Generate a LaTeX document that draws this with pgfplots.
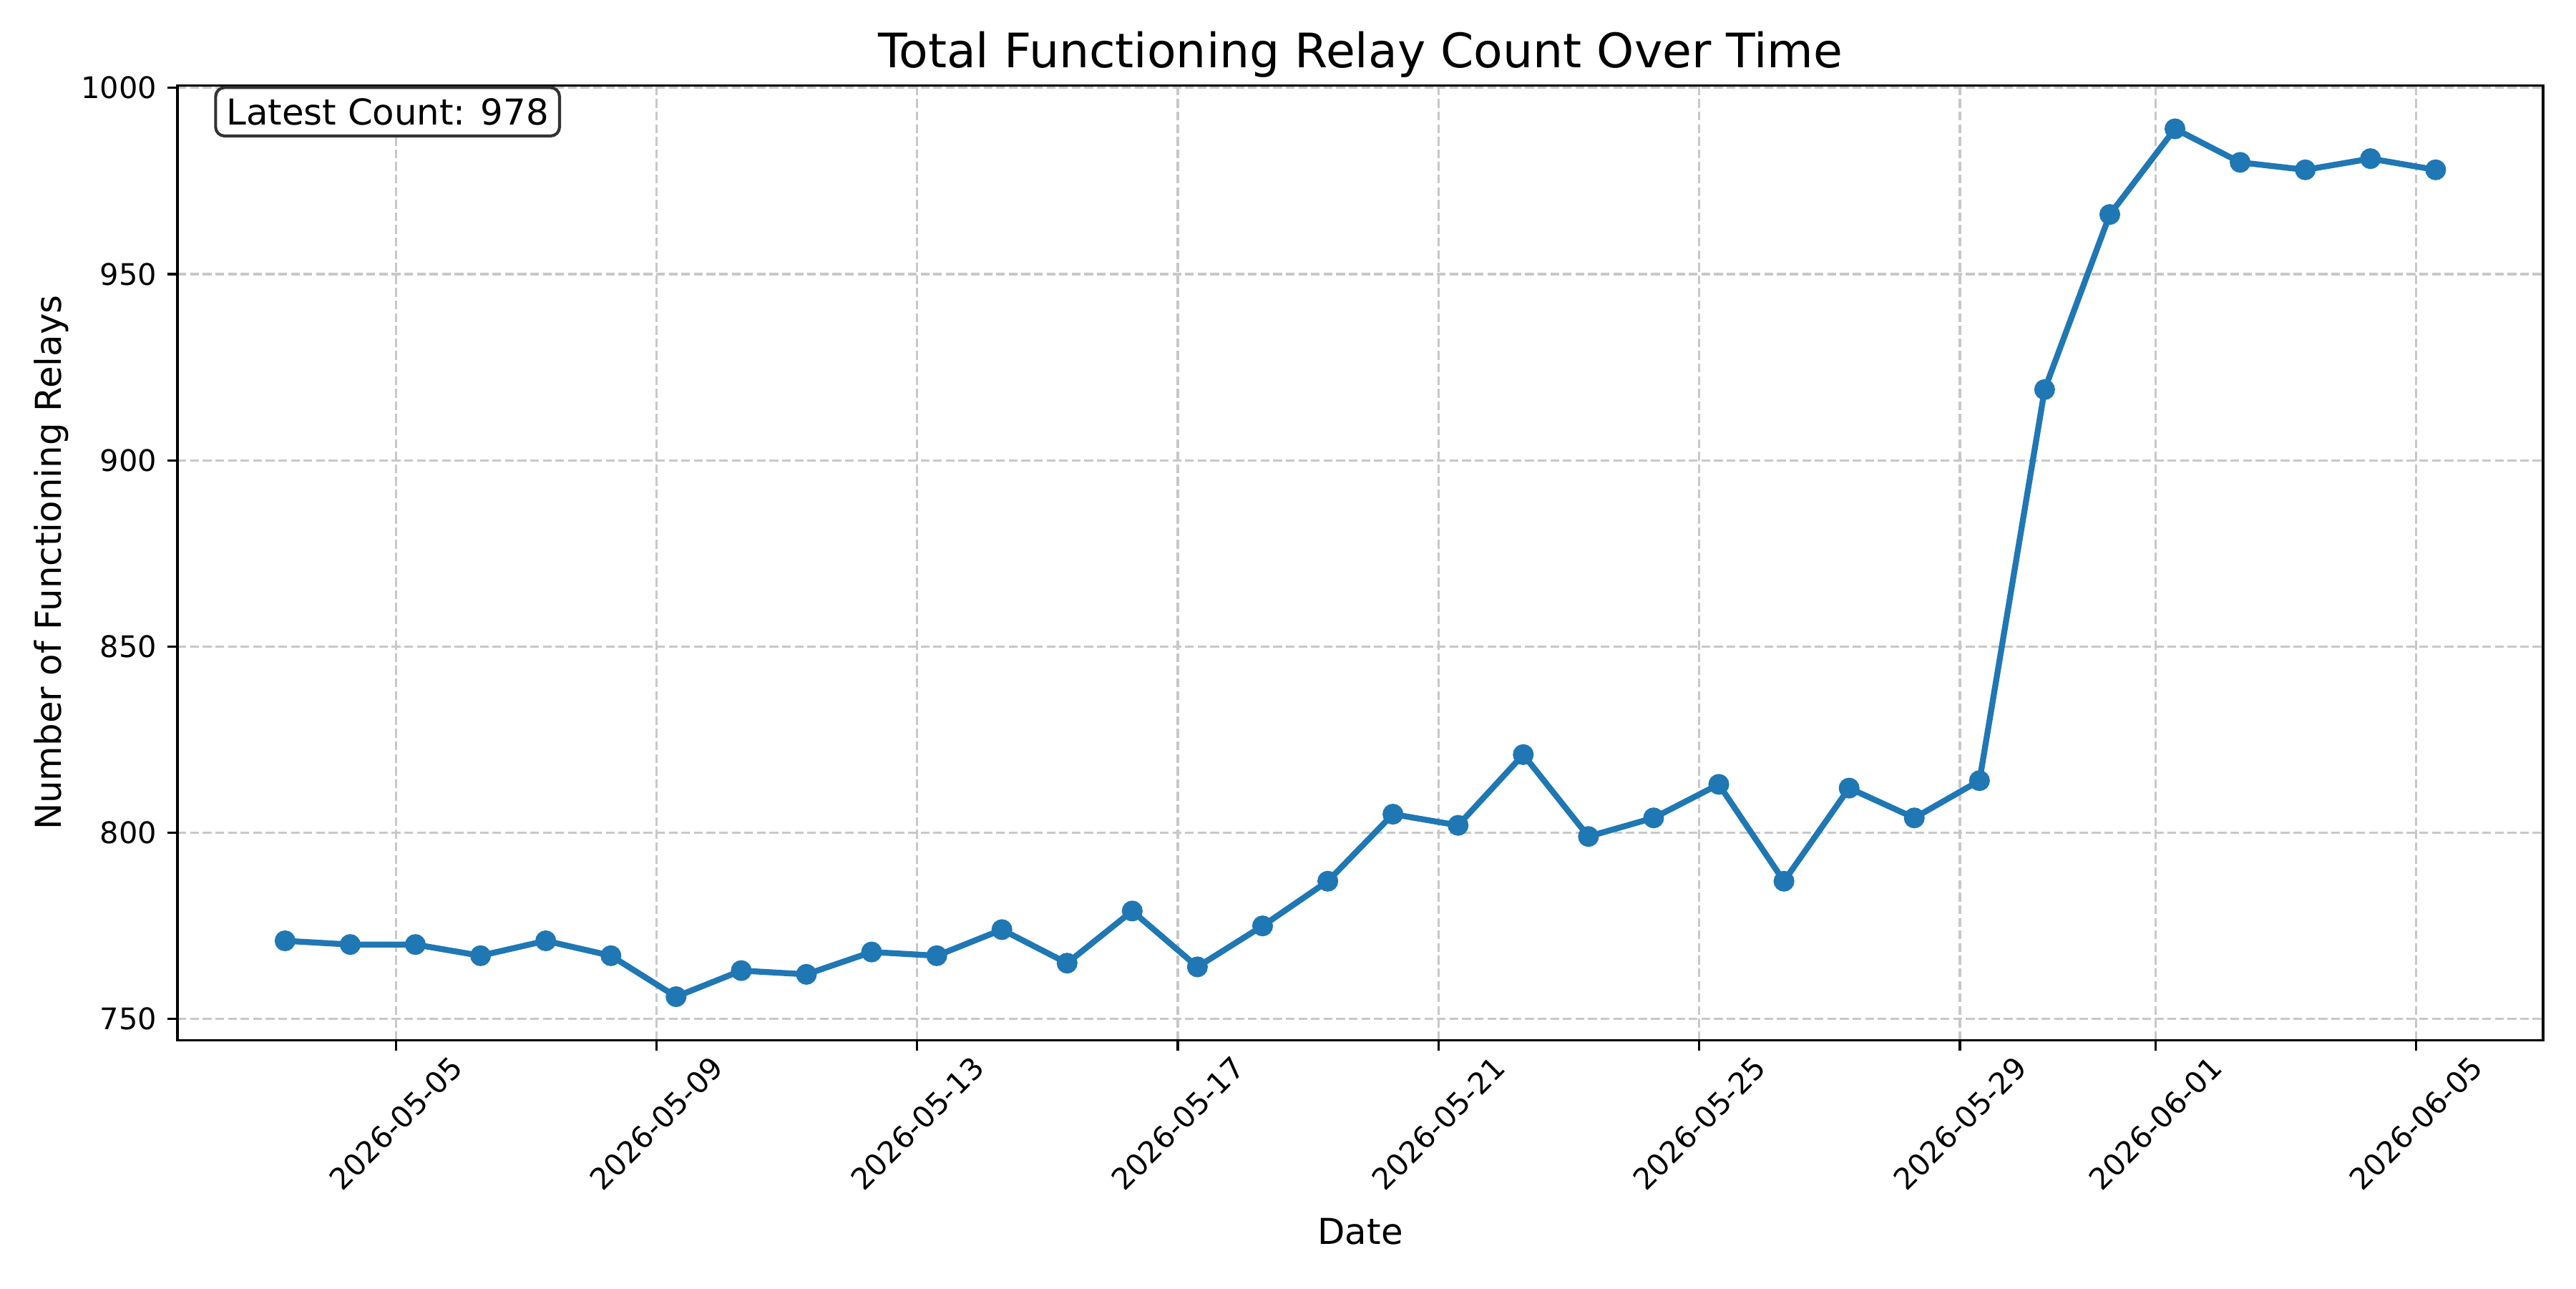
\documentclass[border=0pt]{standalone}
\usepackage{fontspec}
\setmainfont{DejaVu Sans}
\usepackage{pgfplots}
\pgfplotsset{compat=1.18}
\definecolor{mplblue}{HTML}{1F77B4}
\definecolor{gridgray}{HTML}{C8C8C8}
\begin{document}
\begin{tikzpicture}
\useasboundingbox (0,0) rectangle (12in,6in);
\begin{axis}[
  at={(0.827in,1.156in)}, anchor=south west,
  scale only axis, width=11.02in, height=4.446in,
  xmin=1.65, xmax=37.95, ymin=744.35, ymax=1000.65,
  xtick={5,9,13,17,21,25,29,32,36},
  xticklabels={2026-05-05,2026-05-09,2026-05-13,2026-05-17,2026-05-21,2026-05-25,2026-05-29,2026-06-01,2026-06-05},
  ytick={750,800,850,900,950,1000},
  tick align=outside, tick pos=left,
  major tick length=3.5pt,
  every tick/.style={black, line width=0.8pt},
  axis line style={line width=0.8pt},
  grid=major,
  major grid style={dash pattern=on 2.96pt off 1.28pt, color=gridgray, line width=0.8pt},
  xticklabel style={rotate=45, anchor=center, xshift=-17.4pt, yshift=-17.4pt, font=\fontsize{10}{12}\selectfont},
  yticklabel style={font=\fontsize{10}{12}\selectfont},
  /pgf/number format/assume math mode=true,
  /pgf/number format/1000 sep={},
  title={Total Functioning Relay Count Over Time},
  title style={at={([yshift=4.4pt]axis description cs:0.5,1)}, anchor=center, font=\fontsize{16}{19}\selectfont},
  xlabel={Date},
  xlabel style={at={([yshift=-64.4pt]axis description cs:0.5,0)}, anchor=center, font=\fontsize{12}{14}\selectfont},
  ylabel={Number of Functioning Relays},
  ylabel style={at={([xshift=-42.5pt]axis description cs:0,0.5)}, anchor=center, rotate=0, font=\fontsize{12}{14}\selectfont},
]
\addplot[color=mplblue, line width=2pt, mark=*, mark size=3pt,
  mark options={fill=mplblue, draw=mplblue, line width=1pt, solid}]
coordinates {
(3.3,771) (4.3,770) (5.3,770) (6.3,767) (7.3,771) (8.3,767) (9.3,756) (10.3,763)
(11.3,762) (12.3,768) (13.3,767) (14.3,774) (15.3,765) (16.3,779) (17.3,764) (18.3,775)
(19.3,787) (20.3,805) (21.3,802) (22.3,821) (23.3,799) (24.3,804) (25.3,813) (26.3,787)
(27.3,812) (28.3,804) (29.3,814) (30.3,919) (31.3,966) (32.3,989) (33.3,980) (34.3,978)
(35.3,981) (36.3,978)
};
\node[anchor=north west, inner sep=3.6pt, draw=black!80, line width=1pt, rounded corners=3pt, fill=white,
  font=\fontsize{12}{14}\selectfont]
  at ([xshift=-3.6pt,yshift=6.2pt]rel axis cs:0.02,0.98) {Latest Count: 978};
\end{axis}
\end{tikzpicture}
\end{document}
